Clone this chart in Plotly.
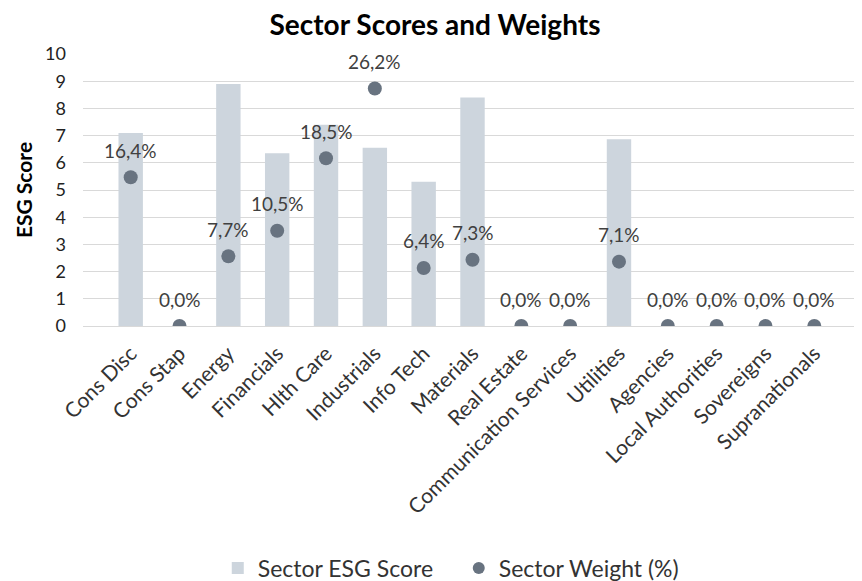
import plotly.graph_objects as go

categories = ["Cons Disc", "Cons Stap", "Energy", "Financials", "Hlth Care", "Industrials",
              "Info Tech", "Materials", "Real Estate", "Communication Services", "Utilities",
              "Agencies", "Local Authorities", "Sovereigns", "Supranationals"]
esg_scores = [7.1, 0, 8.9, 6.35, 7.4, 6.55, 5.3, 8.4, 0, 0, 6.87, 0, 0, 0, 0]
weights = [16.4, 0.0, 7.7, 10.5, 18.5, 26.2, 6.4, 7.3, 0.0, 0.0, 7.1, 0.0, 0.0, 0.0, 0.0]
y_ticks = list(range(0, 11))

FONT = "Lato"
# page body has an 8px default margin: figure is sized to fill the remaining window
W, H = 854, 573
fig = go.Figure()
fig.add_trace(go.Bar(x=categories, y=esg_scores, name="Sector ESG Score",
                     marker=dict(color="#CDD5DD", line=dict(width=0)), yaxis="y"))
fig.add_trace(go.Scatter(x=categories, y=weights, name="Sector Weight (%)", mode="markers",
                         marker=dict(color="#687380", size=14), yaxis="y2"))

for c, w in zip(categories, weights):
    fig.add_annotation(x=c, y=w, yref="y2", text=f"{w:.1f}%".replace(".", ","),
                       showarrow=False, yshift=27, font=dict(size=19, color="#404040", family=FONT))

fig.update_layout(
    width=W, height=H,
    margin=dict(l=75, r=0, t=46, b=255, autoexpand=False),
    paper_bgcolor="white", plot_bgcolor="white",
    font=dict(family=FONT, size=18, color="#333333"),
    title=dict(text="<b>Sector Scores and Weights</b>", x=0.5, xanchor="center", y=1 - 17 / H,
               yanchor="middle", font=dict(size=28, color="#000000", family=FONT)),
    bargap=0.5,
    showlegend=True,
    legend=dict(orientation="h", x=0.173, xanchor="left", y=-0.89, yanchor="middle",
                font=dict(size=23, color="#333333"), itemsizing="constant",
                entrywidth=196, entrywidthmode="pixels"),
    xaxis=dict(tickangle=-45, showgrid=False, showline=True, linecolor="#d9d9d9",
               tickfont=dict(size=21, color="#333333"), ticks="", automargin=False,
               ticklabelstandoff=6),
    yaxis=dict(range=[0, 10], tickvals=y_ticks, showgrid=True, gridcolor="#d9d9d9",
               zeroline=False, tickfont=dict(size=18, color="#222222"), automargin=False,
               ticklabelstandoff=16,
               title=dict(text="<b>ESG Score</b>", font=dict(size=21, color="#000000"), standoff=6)),
    yaxis2=dict(range=[0, 30], overlaying="y", side="right", visible=False),
)
fig.write_html("out.html")
